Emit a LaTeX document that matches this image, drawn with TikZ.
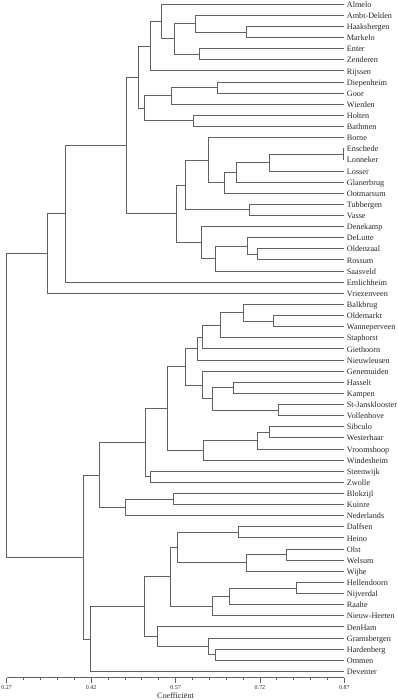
\documentclass[tikz,border=0pt]{standalone}
\usepackage{fontspec}
\setmainfont{Liberation Serif}
\usetikzlibrary{calc}

\tikzset{
  branch/.style={draw=black!62, line width=0.6pt},
  axis/.style={draw=black!62, line width=0.6pt},
  town/.style={font=\fontsize{8.2}{9}\selectfont, text=black!85, inner sep=2.4pt,
    text height=0.9em, text depth=0.24em},
  ticklab/.style={font=\fontsize{6}{7}\selectfont, text=black!85, inner sep=0pt}
}

\begin{document}
\begin{tikzpicture}[x=562.7pt, y=-11.12pt]
\useasboundingbox (0.2581,0.6403) rectangle (0.9654,63.59);

% Leaf nodes
\foreach \town [count=\i] in {Almelo, Ambt-Delden, Haaksbergen, Markelo, Enter, Zenderen,
    Rijssen, Diepenheim, Goor, Wierden, Holten, Bathmen, Borne, Enschede, Lonneker,
    Losser, Glanerbrug, Ootmarsum, Tubbergen, Vasse, Denekamp, DeLutte, Oldenzaal,
    Rossum, Saasveld, Emlichheim, Vriezenveen, Balkbrug, Oldemarkt, Wanneperveen,
    Staphorst, Giethoorn, Nieuwleusen, Genemuiden, Hasselt, Kampen, St-Jansklooster,
    Vollenhove, Sibculo, Westerhaar, Vroomshoop, Windesheim, Steenwijk, Zwolle,
    Blokzijl, Kuinre, Nederlands, Dalfsen, Heino, Olst, Welsum, Wijhe, Hellendoorn,
    Nijverdal, Raalte, Nieuw-Heeten, DenHam, Gramsbergen, Hardenberg, Ommen, Deventer} {
  \node[coordinate, label={[town]right:\town}] (l\i) at (0.87, \i) {};
}

% Merges: name / coefficient / first child / second child
\foreach \nm/\cf/\ca/\cb in {
    m1/0.695/l3/l4, m2/0.605/l2/m1, m3/0.612/l5/l6, m4/0.568/m2/m3,
    m5/0.545/l1/m4, m6/0.525/m5/l7, m7/0.644/l8/l9, m8/0.563/m7/l10,
    m9/0.601/l11/l12, m10/0.515/m8/m9, m11/0.503/m6/m10,
    m12/0.868/l14/l15, m13/0.736/m12/l16, m14/0.678/m13/l17, m15/0.657/m14/l18,
    m16/0.628/l13/m15, m17/0.701/l19/l20, m18/0.587/m16/m17,
    m19/0.716/l23/l24, m20/0.698/l22/m19, m21/0.641/m20/l25, m22/0.615/l21/m21,
    m23/0.571/m18/m22, m24/0.483/m11/m23, m25/0.375/m24/l26, m26/0.343/m25/l27,
    m27/0.743/l29/l30, m28/0.690/l28/m27, m29/0.649/m28/l31, m30/0.618/m29/l32,
    m31/0.608/m30/l33, m32/0.673/l35/l36, m33/0.752/l37/l38, m34/0.635/m32/m33,
    m35/0.618/l34/m34, m36/0.587/m31/m35, m37/0.737/l39/l40, m38/0.715/m37/l41,
    m39/0.619/m38/l42, m40/0.555/m36/m39, m41/0.526/l43/l44, m42/0.517/m40/m41,
    m43/0.566/l45/l46, m44/0.481/m43/l47, m45/0.434/m42/m44,
    m46/0.682/l48/l49, m47/0.766/l50/l51, m48/0.695/m47/l52, m49/0.574/m46/m48,
    m50/0.785/l53/l54, m51/0.666/m50/l55, m52/0.635/m51/l56, m53/0.561/m49/m52,
    m54/0.641/l59/l60, m55/0.629/l58/m54, m56/0.538/l57/m55, m57/0.515/m53/m56,
    m58/0.418/m57/l61, m59/0.406/m45/m58, m60/0.270/m26/m59} {
  \coordinate (mid\nm) at ($(\ca)!0.5!(\cb)$);
  \coordinate (\nm) at (\cf,0 |- mid\nm);
  \draw[branch] (\ca) -| (\nm) |- (\cb);
}

% Axis
\draw[axis] (0.27,61.57) -- (0.87,61.57);
\foreach \k in {0,...,20} {
  \draw[axis] ({0.27+0.03*\k},61.57) -- ++(0,-2.5pt);
}
\foreach \t [count=\j] in {0.27, 0.42, 0.57, 0.72, 0.87} {
  \draw[axis] (\t,61.57) -- ++(0,-5pt);
  \node[ticklab] (tick\j) at (\t,62.47) {\t};
}
\node[town, inner sep=0pt] (coef) at (0.57,63.12) {Coefficiënt};
\end{tikzpicture}
\end{document}
